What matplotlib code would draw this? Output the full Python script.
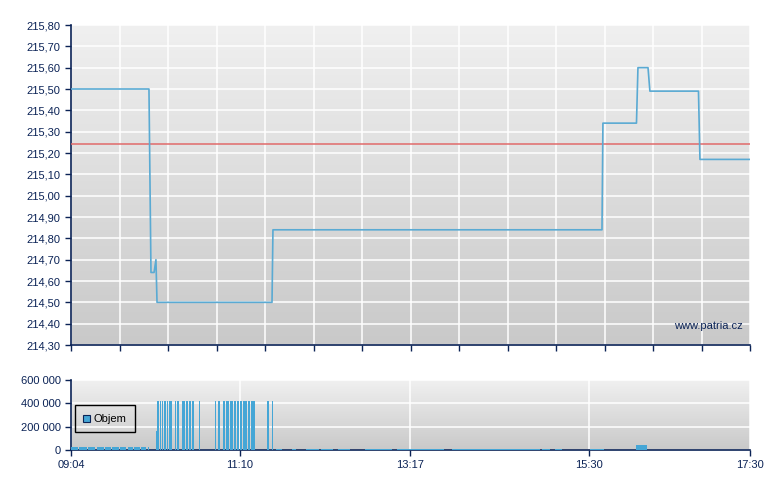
import matplotlib
matplotlib.use("Agg")
import matplotlib.pyplot as plt
import numpy as np
from matplotlib.patches import Rectangle
from matplotlib.ticker import FuncFormatter

# price line: minutes after 09:04 and price
priceTimes = [0, 58.1, 59.6, 61.9, 63.3, 64.1, 149.8, 150.5, 395.7, 396.4,
              421.4, 422.5, 430.0, 431.4, 467.6, 468.7, 506.0]
priceValues = [215.50, 215.50, 214.64, 214.64, 214.70, 214.50, 214.50, 214.84, 214.84, 215.34,
               215.34, 215.60, 215.60, 215.49, 215.49, 215.17, 215.17]
prevClose = 215.24

# volume segments: start/end in minutes after 09:04, volume
volStart = [0.0, 6.0, 12.7, 19.4, 25.3, 30.5, 36.5, 42.2, 47.0, 52.0, 57.4,
            63.3, 64.1, 66.3, 67.8, 69.3, 71.5, 73.0, 77.5, 79.0, 82.7, 85.7, 87.9, 90.2, 95.4,
            107.3, 109.5, 113.3, 115.5, 118.5, 121.5, 123.7, 125.9, 128.2, 131.9, 134.1,
            146.1, 149.8,
            153.0, 165.0, 175.4, 186.6, 198.6, 219.4, 227.6, 243.3, 258.2, 268.7,
            283.6, 297.8, 304.5, 317.2, 326.1, 350.7, 360.4, 362.6, 386.5, 420.8]
volEnd = [5.2, 11.9, 17.9, 24.5, 29.8, 35.7, 41.0, 46.2, 51.2, 56.0, 58.1,
          64.1, 65.6, 67.1, 68.6, 70.8, 72.3, 75.3, 78.2, 80.5, 85.0, 87.2, 89.4, 91.7, 96.1,
          108.1, 111.0, 114.8, 117.7, 120.7, 123.0, 125.2, 127.4, 131.2, 133.4, 137.1,
          147.5, 150.5,
          157.5, 168.0, 185.1, 195.5, 208.2, 232.0, 239.5, 259.5, 269.0, 278.0,
          298.0, 311.5, 323.0, 338.5, 349.2, 357.0, 363.5, 366.1, 397.0, 429.0]
volValues = [25000] * 11 + [160000] + [420000] * 13 + [420000] * 11 + [420000] * 2 + [8000] * 19 + [43000]

timeLabels = ["09:04", "11:10", "13:17", "15:30", "17:30"]
timeTicks = [0, 126, 253, 386, 506]

navy = "#0b2356"
lineBlue = "#5aaad3"
barBlue = "#45a6d6"

plt.rcParams["font.family"] = ["Liberation Sans", "DejaVu Sans"]
plt.rcParams["font.size"] = 8


def gradientBackground(ax):
    grad = np.linspace(0, 1, 256).reshape(-1, 1)
    ax.imshow(grad, extent=[0, 1, 0, 1], transform=ax.transAxes, aspect="auto",
              cmap=matplotlib.colors.LinearSegmentedColormap.from_list("bg", ["#c9c9c9", "#f0f0f0"]),
              origin="lower", zorder=0)


def styleAxes(ax):
    for s in ["top", "right"]:
        ax.spines[s].set_visible(False)
    for s in ["left", "bottom"]:
        ax.spines[s].set_color(navy)
        ax.spines[s].set_linewidth(1.2)
    ax.tick_params(colors=navy, labelcolor=navy, direction="out", length=4, width=1)


fig = plt.figure(figsize=(7.8, 4.9), dpi=100)
ax = fig.add_axes([71 / 780, 1 - 345 / 490, 679 / 780, 320 / 490])
axv = fig.add_axes([71 / 780, 1 - 450 / 490, 679 / 780, 70 / 490])

# --- price chart
gradientBackground(ax)
styleAxes(ax)
ax.set_xlim(0, 506)
ax.set_ylim(214.30, 215.80)
yt = np.round(np.arange(214.30, 215.81, 0.10), 2)
ax.set_yticks(yt)
ax.yaxis.set_major_formatter(FuncFormatter(lambda v, p: f"{v:.2f}".replace(".", ",")))
ax.set_xticks(np.linspace(0, 506, 15))
ax.set_xticklabels([])
ax.grid(True, color="white", linewidth=1.1)
for gl in ax.get_xgridlines() + ax.get_ygridlines():
    gl.set_zorder(1)
ax.axhline(prevClose, color="#e06a6a", linewidth=1.3, alpha=0.85, zorder=3)
ax.plot(priceTimes, priceValues, color=lineBlue, linewidth=1.2, zorder=4)
ax.text(0.99, 0.06, "www.patria.cz", transform=ax.transAxes, ha="right", va="center",
        color=navy, fontsize=8, zorder=5)

# --- volume chart
gradientBackground(axv)
styleAxes(axv)
axv.set_xlim(0, 506)
axv.set_ylim(0, 600000)
axv.set_yticks([0, 200000, 400000, 600000])
axv.yaxis.set_major_formatter(FuncFormatter(lambda v, p: f"{int(v):,}".replace(",", " ")))
axv.set_xticks(timeTicks)
axv.set_xticklabels(timeLabels)
axv.grid(True, color="white", linewidth=1.1)
for gl in axv.get_xgridlines() + axv.get_ygridlines():
    gl.set_zorder(1)
widths = [e - s for s, e in zip(volStart, volEnd)]
axv.bar(volStart, volValues, width=widths, align="edge", color=barBlue, linewidth=0, zorder=3)

# legend box
axv.add_patch(Rectangle((4 / 679, 18 / 70), 60 / 679, 27 / 70, transform=axv.transAxes,
                        facecolor="none", edgecolor="black", linewidth=1, zorder=5))
axv.add_patch(Rectangle((12 / 679, 28 / 70), 7 / 679, 7 / 70, transform=axv.transAxes,
                        facecolor=barBlue, edgecolor=navy, linewidth=0.8, zorder=6))
axv.text(23 / 679, 31.5 / 70, "Objem", transform=axv.transAxes, va="center", ha="left",
         color="black", fontsize=8, zorder=6)

fig.savefig("out.png", dpi=100)
